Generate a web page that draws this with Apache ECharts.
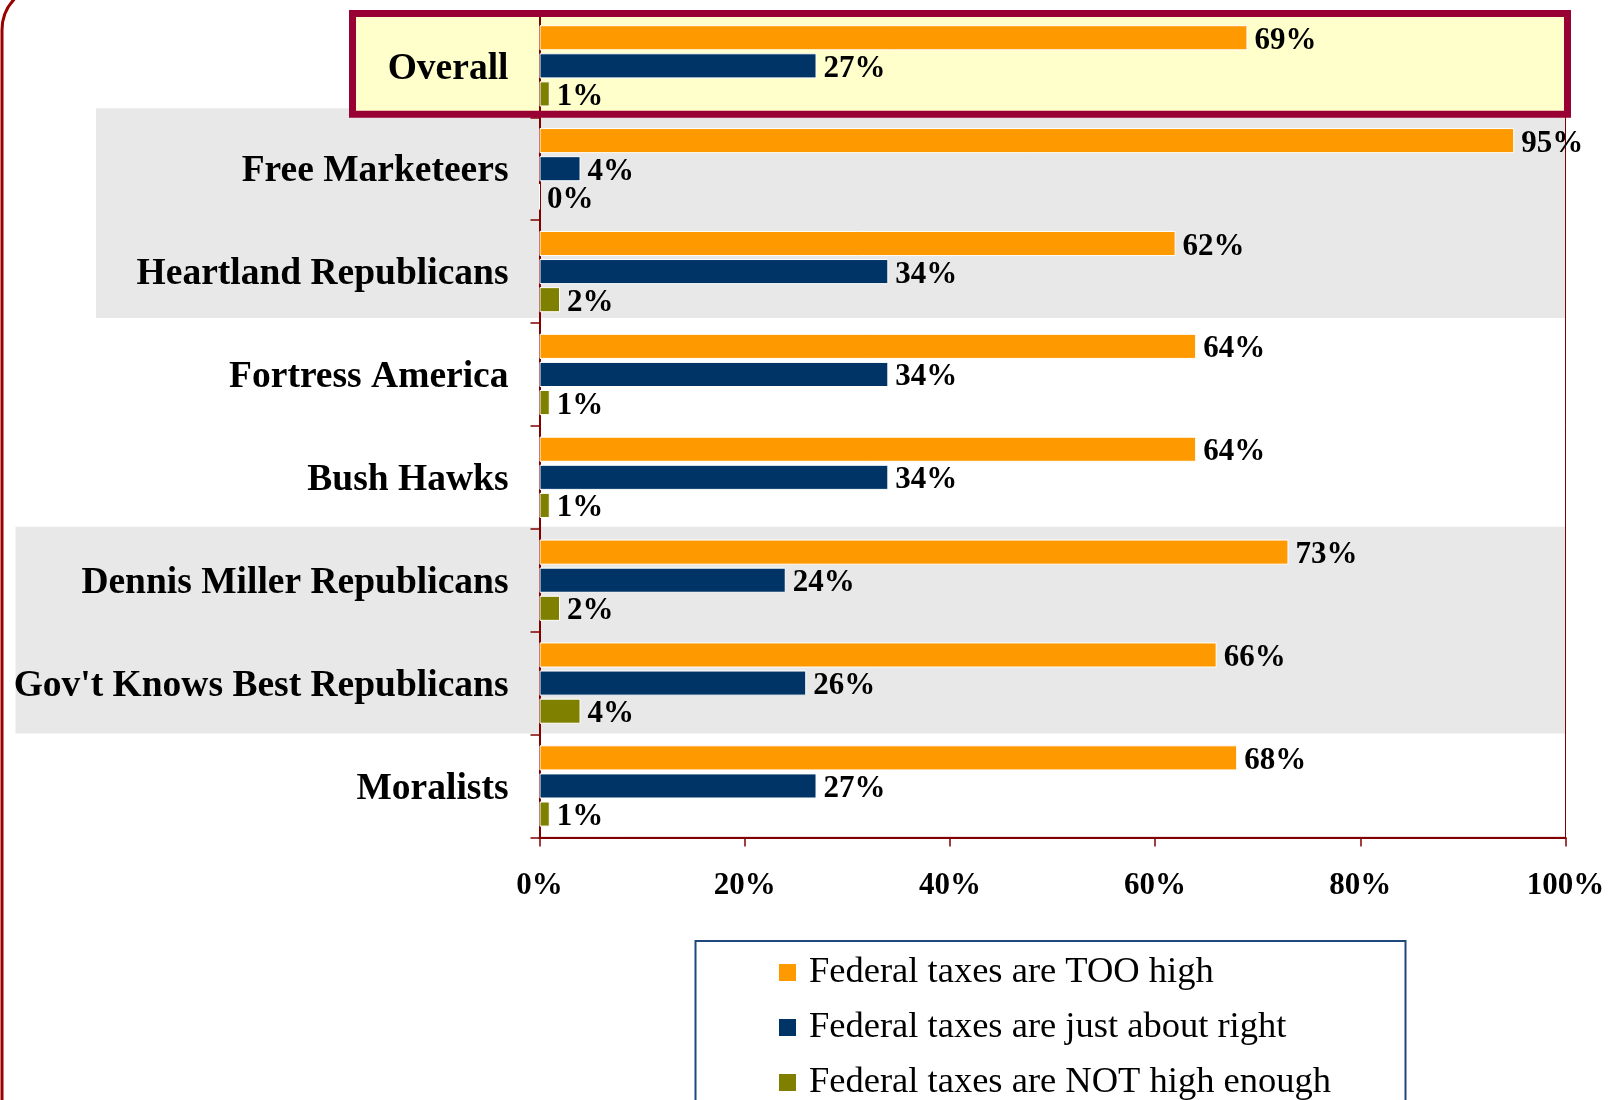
<!DOCTYPE html>
<html>
<head>
<meta charset="utf-8">
<script src="https://cdn.jsdelivr.net/npm/echarts@6/dist/echarts.min.js"></script>
<style>
html,body{margin:0;padding:0;background:#fff;}
#c{width:1617px;height:1100px;}
</style>
</head>
<body>
<div id="c"></div>
<script>
const categories = ['Overall', 'Free Marketeers', 'Heartland Republicans', 'Fortress America', 'Bush Hawks', 'Dennis Miller Republicans', "Gov't Knows Best Republicans", 'Moralists'];
const seriesNames = ['Federal taxes are TOO high', 'Federal taxes are just about right', 'Federal taxes are NOT high enough'];
const tooHigh = [69, 95, 62, 64, 64, 73, 66, 68];
const aboutRight = [27, 4, 34, 34, 34, 24, 26, 27];
const notHighEnough = [1, 0, 2, 1, 1, 2, 4, 1];
const xTicks = [0, 20, 40, 60, 80, 100];

const colors = ['#FF9900', '#003366', '#808000'];
const serif = '"Liberation Serif", "Times New Roman", serif';
const axisRed = '#800000';

const chart = echarts.init(document.getElementById('c'), null, {renderer: 'canvas'});

function mkSeries(name, data, color) {
  return {
    name: name,
    type: 'bar',
    data: data,
    barCategoryGap: '21%',
    barGap: '12%',
    itemStyle: {color: color, borderColor: '#ffffff', borderWidth: 1},
    label: {
      show: true, position: 'right', distance: 7, offset: [0, 3],
      formatter: '{c}%',
      fontFamily: serif, fontWeight: 'bold', fontSize: 31, color: '#000'
    },
    z: 5
  };
}

const option = {
  animation: false,
  backgroundColor: '#ffffff',
  grid: {
    left: 539.5, right: 51.5, top: 14.4, bottom: 262.6,
    containLabel: false,
    show: true, borderColor: axisRed, borderWidth: 1, backgroundColor: 'transparent'
  },
  xAxis: {
    type: 'value', min: xTicks[0], max: xTicks[xTicks.length - 1], interval: 20,
    axisLine: {show: true, lineStyle: {color: axisRed, width: 2}},
    axisTick: {show: true, length: 9, lineStyle: {color: axisRed, width: 1.5}},
    splitLine: {show: false},
    axisLabel: {
      formatter: '{value}%', margin: 33,
      fontFamily: serif, fontWeight: 'bold', fontSize: 31, color: '#000'
    }
  },
  yAxis: {
    type: 'category', data: categories, inverse: true,
    axisLine: {show: true, lineStyle: {color: axisRed, width: 2}},
    axisTick: {show: true, length: 9, lineStyle: {color: axisRed, width: 1.5}},
    axisLabel: {
      margin: 31,
      formatter: '{c|{value}}',
      rich: {
        c: {fontFamily: serif, fontWeight: 'bold', fontSize: 37.5, color: '#000', padding: [6, 0, 0, 0]}
      }
    }
  },
  legend: {
    orient: 'vertical', left: 772, top: 949, height: 220, padding: 5,
    itemWidth: 19, itemHeight: 19, itemGap: 18,
    icon: 'rect',
    data: seriesNames,
    textStyle: {fontFamily: serif, fontSize: 36.5, color: '#000', padding: [0, 0, 0, 7]}
  },
  series: [
    mkSeries(seriesNames[0], tooHigh, colors[0]),
    mkSeries(seriesNames[1], aboutRight, colors[1]),
    mkSeries(seriesNames[2], notHighEnough, colors[2])
  ]
};
chart.setOption(option);

// decorations placed relative to the category axis
const y0 = chart.convertToPixel({yAxisIndex: 0}, categories[0]);
const y1 = chart.convertToPixel({yAxisIndex: 0}, categories[1]);
const band = y1 - y0;
const boundary = i => y0 - band / 2 + i * band;
const plotRight = chart.convertToPixel({xAxisIndex: 0}, 100);

chart.setOption({
  graphic: [
    {type: 'rect', z: -10, silent: true,
      shape: {x: 96, y: boundary(1) - 9, width: plotRight - 96, height: boundary(3) - 5 - (boundary(1) - 9)},
      style: {fill: '#E8E8E8'}},
    {type: 'rect', z: -10, silent: true,
      shape: {x: 15.5, y: boundary(5) - 2, width: plotRight - 15.5, height: boundary(7) - 1 - (boundary(5) - 2)},
      style: {fill: '#E8E8E8'}},
    {type: 'rect', z: -9, silent: true,
      shape: {x: 352.5, y: boundary(0) - 1, width: 1215, height: boundary(1) - boundary(0) - 2},
      style: {fill: '#FFFFCC'}},
    {type: 'rect', z: 50, silent: true,
      shape: {x: 352.5, y: boundary(0) - 1, width: 1215, height: boundary(1) - boundary(0) - 2},
      style: {fill: 'none', stroke: '#990033', lineWidth: 7}},
    {type: 'rect', z: 50, silent: true,
      shape: {x: 695.5, y: 941, width: 710, height: 250},
      style: {fill: 'none', stroke: '#1F497D', lineWidth: 2}},
    {type: 'rect', z: 50, silent: true,
      shape: {x: 2, y: -15, width: 1800, height: 1300, r: 45},
      style: {fill: 'none', stroke: '#990000', lineWidth: 3}}
  ]
});
</script>
</body>
</html>
